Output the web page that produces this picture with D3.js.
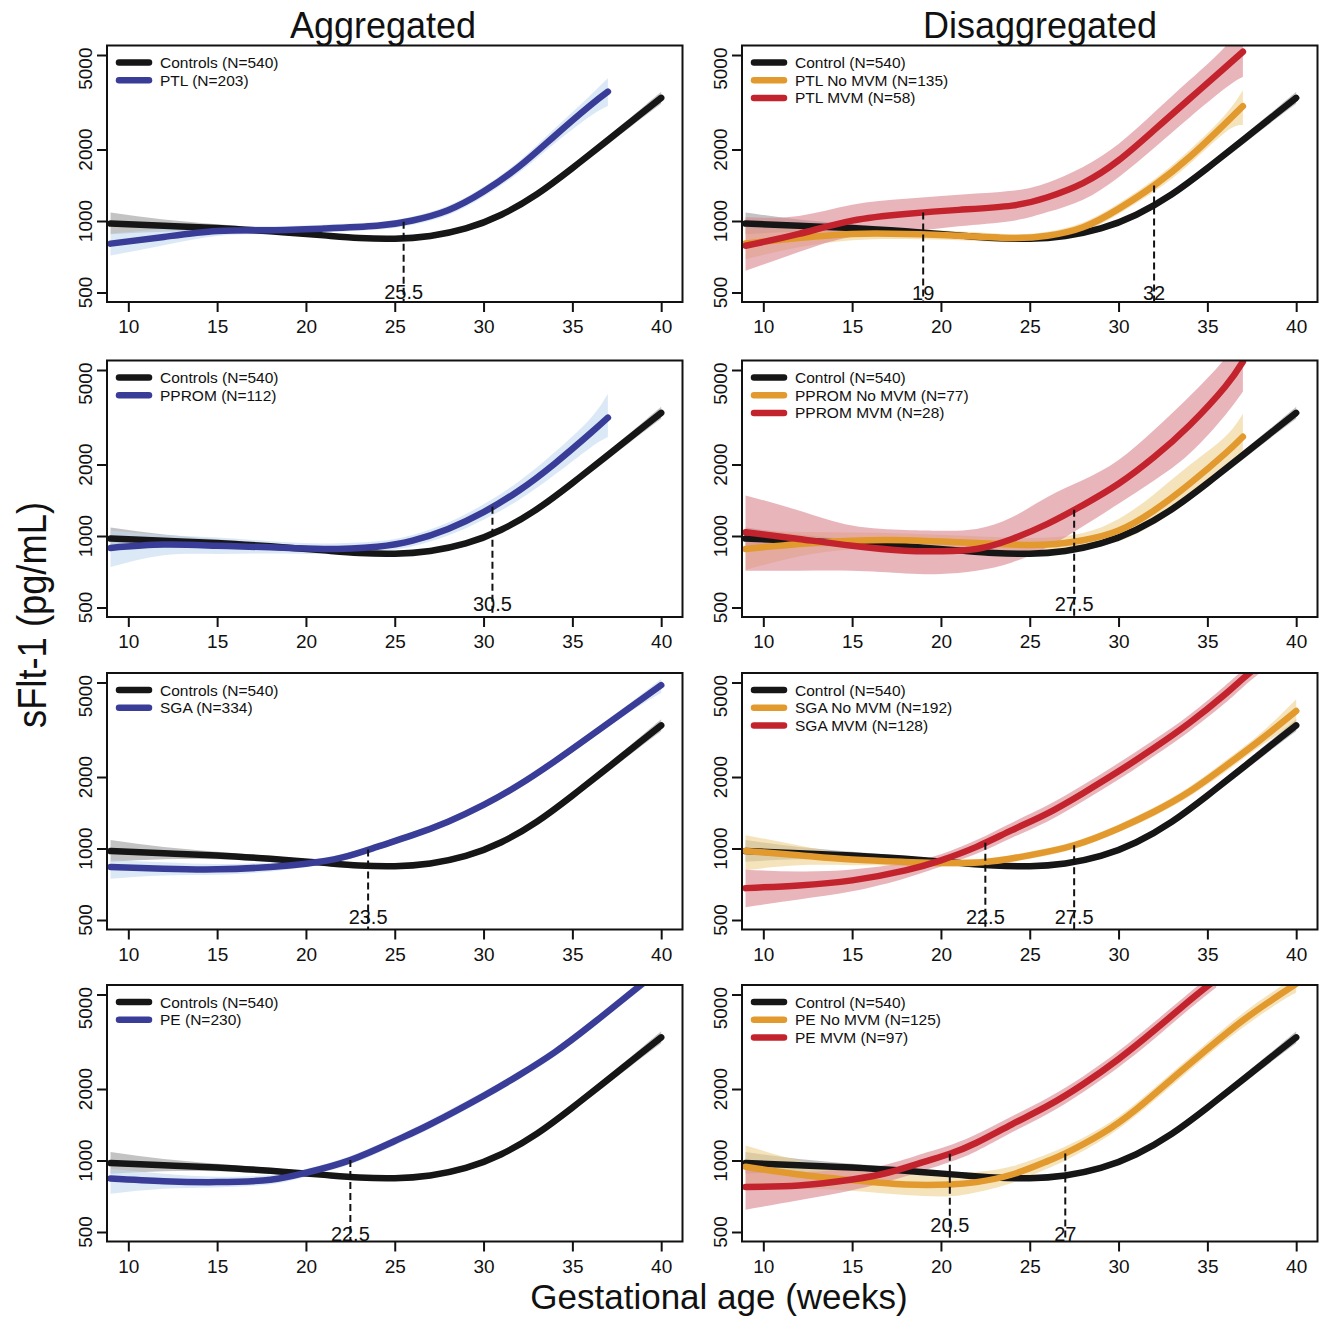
<!DOCTYPE html>
<html>
<head>
<meta charset="utf-8">
<title>sFlt-1 by gestational age</title>
<script src="https://cdn.jsdelivr.net/npm/d3@7"></script>
<style>
  body { margin: 0; background: #ffffff; }
  svg text { font-family: "Liberation Sans", Arial, Helvetica, sans-serif; fill: #111; }
</style>
</head>
<body>
<svg width="1325" height="1318" id="mainsvg"></svg>
<script>
// ---- data (sFlt-1, pg/mL) ----
const xTicks = [10, 15, 20, 25, 30, 35, 40];
const yTicks = [500, 1000, 2000, 5000];
const colTitles = ['Aggregated', 'Disaggregated'];

// controls, shared by every panel
const ctrlWeeks = [9, 12, 15, 18, 21, 23, 25, 27, 29, 31, 33, 35, 37, 39, 40];
const ctrlMid = [975, 955, 935, 905, 870, 848, 842, 865, 930, 1063, 1296, 1670, 2190, 2880, 3300];
const ctrlLo = [880, 900, 900, 880, 850, 828, 822, 845, 905, 1035, 1255, 1610, 2100, 2740, 3120];
const ctrlHi = [1085, 1015, 970, 930, 890, 868, 862, 885, 955, 1092, 1338, 1730, 2280, 3030, 3500];

// PTL
const ptlWeeks = [9, 12, 15, 18, 21, 24, 26, 28, 30, 32, 34, 36, 37];
const ptlMid = [803, 857, 908, 915, 929, 954, 1005, 1110, 1330, 1695, 2281, 3063, 3504];
const ptlLo = [715, 790, 865, 880, 895, 920, 965, 1060, 1265, 1600, 2120, 2760, 3050];
const ptlHi = [885, 925, 950, 950, 965, 990, 1045, 1160, 1395, 1790, 2450, 3380, 4000];

const ptlNoWeeks = [9, 12, 15, 18, 21, 24, 26, 28, 30, 32, 34, 36, 37];
const ptlNoMid = [805, 848, 882, 882, 867, 848, 867, 941, 1125, 1411, 1859, 2571, 3044];
const ptlNoLo = [690, 775, 830, 840, 830, 815, 835, 900, 1070, 1330, 1740, 2360, 2540];
const ptlNoHi = [930, 925, 935, 925, 905, 880, 900, 985, 1185, 1495, 1990, 2800, 3560];

const ptlMvmWeeks = [9, 12, 15, 18, 21, 24, 26, 28, 30, 32, 34, 36, 37];
const ptlMvmMid = [787, 882, 1004, 1071, 1114, 1161, 1259, 1444, 1799, 2412, 3270, 4430, 5160];
const ptlMvmLo = [617, 740, 860, 900, 950, 1000, 1090, 1230, 1530, 2030, 2730, 3620, 4050];
const ptlMvmHi = [1037, 1050, 1170, 1240, 1290, 1340, 1450, 1690, 2110, 2860, 3920, 5420, 6900];

// PPROM
const ppromWeeks = [9, 12, 15, 18, 21, 24, 26, 28, 30, 32, 34, 36, 37];
const ppromMid = [891, 920, 910, 896, 882, 902, 956, 1071, 1260, 1555, 2016, 2700, 3150];
const ppromLo = [740, 830, 840, 845, 840, 860, 905, 1005, 1170, 1420, 1810, 2350, 2610];
const ppromHi = [1055, 1010, 985, 950, 930, 950, 1010, 1140, 1360, 1700, 2250, 3120, 3970];

const ppromNoWeeks = [9, 12, 15, 18, 21, 24, 26, 28, 30, 32, 34, 36, 37];
const ppromNoMid = [882, 926, 956, 960, 941, 920, 920, 960, 1054, 1281, 1659, 2222, 2617];
const ppromNoLo = [720, 820, 880, 895, 880, 860, 860, 895, 950, 1120, 1420, 1900, 2090];
const ppromNoHi = [1060, 1040, 1035, 1025, 1005, 985, 985, 1030, 1180, 1500, 1990, 2620, 3280];

const ppromMvmWeeks = [9, 12, 15, 18, 20, 22, 24, 26, 28, 30, 32, 34, 36, 37];
const ppromMvmMid = [1037, 972, 910, 867, 863, 882, 972, 1125, 1350, 1659, 2150, 2928, 4252, 5420];
const ppromMvmLo = [714, 714, 714, 696, 692, 714, 774, 897, 1100, 1366, 1713, 2224, 3225, 4057];
const ppromMvmHi = [1482, 1280, 1106, 1061, 1053, 1070, 1198, 1459, 1720, 2087, 2792, 3873, 5600, 7300];

// SGA
const sgaWeeks = [9, 12, 15, 18, 20, 22, 24, 26, 28, 30, 32, 34, 36, 38, 40];
const sgaMid = [836, 822, 817, 836, 863, 915, 1016, 1138, 1297, 1525, 1854, 2328, 2972, 3810, 4870];
const sgaLo = [745, 770, 775, 800, 835, 885, 985, 1100, 1255, 1475, 1795, 2250, 2870, 3660, 4525];
const sgaHi = [892, 875, 860, 872, 893, 945, 1048, 1175, 1340, 1575, 1915, 2405, 3075, 3970, 5170];

const sgaNoWeeks = [9, 12, 15, 18, 20, 22.5, 25, 27.5, 30, 32, 34, 36, 38, 40];
const sgaNoMid = [977, 937, 898, 878, 869, 878, 937, 1032, 1215, 1428, 1737, 2216, 2874, 3794];
const sgaNoLo = [810, 850, 850, 845, 840, 848, 905, 995, 1170, 1370, 1660, 2100, 2700, 3390];
const sgaNoHi = [1138, 1030, 945, 912, 898, 908, 970, 1070, 1262, 1490, 1820, 2340, 3060, 4255];

const sgaMvmWeeks = [9, 12, 15, 18, 20, 22, 24, 26, 28, 30, 32, 34, 36, 37, 38];
const sgaMvmMid = [681, 699, 734, 809, 892, 1016, 1195, 1406, 1710, 2113, 2652, 3384, 4462, 5190, 6000];
const sgaMvmLo = [566, 610, 660, 750, 840, 950, 1110, 1300, 1580, 1950, 2450, 3120, 4100, 4780, 5520];
const sgaMvmHi = [814, 800, 815, 870, 945, 1085, 1285, 1520, 1850, 2290, 2870, 3660, 4850, 5640, 6520];

// PE
const peWeeks = [9, 12, 15, 18, 20, 22.5, 25, 27, 30, 32, 34, 36, 38, 39.5];
const peMid = [840, 818, 811, 830, 888, 1004, 1208, 1421, 1872, 2288, 2854, 3696, 4870, 6000];
const peLo = [725, 760, 770, 795, 855, 965, 1160, 1365, 1800, 2200, 2740, 3550, 4670, 5700];
const peHi = [920, 880, 855, 868, 922, 1045, 1255, 1480, 1950, 2380, 2970, 3850, 5080, 6300];

const peNoWeeks = [9, 12, 15, 18, 20.5, 22, 24, 26, 27, 29, 31, 33, 35, 37, 39, 40];
const peNoMid = [941, 873, 826, 792, 792, 811, 873, 994, 1071, 1289, 1644, 2205, 2945, 3890, 4950, 5550];
const peNoLo = [755, 760, 745, 715, 707, 735, 805, 925, 1000, 1210, 1550, 2070, 2770, 3630, 4600, 5100];
const peNoHi = [1158, 1000, 915, 875, 888, 895, 945, 1065, 1145, 1370, 1745, 2340, 3140, 4170, 5330, 6050];

const peMvmWeeks = [9, 12, 15, 17, 19, 20.5, 22, 24, 26, 28, 30, 32, 34, 35.5];
const peMvmMid = [774, 785, 832, 888, 985, 1068, 1188, 1421, 1698, 2096, 2674, 3525, 4716, 5800];
const peMvmLo = [621, 680, 750, 815, 905, 985, 1095, 1315, 1570, 1940, 2470, 3250, 4350, 5350];
const peMvmHi = [948, 900, 920, 965, 1070, 1160, 1290, 1535, 1835, 2260, 2890, 3820, 5100, 6300];

// legends, one per panel (row by row, aggregated then disaggregated)
const legendNames = [
  ['Controls (N=540)', 'PTL (N=203)'],
  ['Control (N=540)', 'PTL No MVM (N=135)', 'PTL MVM (N=58)'],
  ['Controls (N=540)', 'PPROM (N=112)'],
  ['Control (N=540)', 'PPROM No MVM (N=77)', 'PPROM MVM (N=28)'],
  ['Controls (N=540)', 'SGA (N=334)'],
  ['Control (N=540)', 'SGA No MVM (N=192)', 'SGA MVM (N=128)'],
  ['Controls (N=540)', 'PE (N=230)'],
  ['Control (N=540)', 'PE No MVM (N=125)', 'PE MVM (N=97)']
];

// weeks where the groups start to differ, and which curve the dashed line drops from
const cutWeeks = [[25.5], [19, 32], [30.5], [27.5], [23.5], [22.5, 27.5], [22.5], [20.5, 27]];
const cutFrom = [[0], [1, 0], [0], [1], [0], [1, 0], [0], [1, 0]];

// ---- layout ----
const svg = d3.select('#mainsvg');
const colLeft = [107, 742];
const frameW = 575.5;
const rowTop = [45.5, 360.5, 673, 985];
const frameH = 256.5;
const cutLift = [[3], [2, 2], [6], [6], [6], [6, 6], [1], [10, 1]];

const palette = {
  black: { line: '#161616', band: '#7a7a7a', op: 0.45 },
  blue: { line: '#3a3d97', band: '#c3dbf0', op: 0.6 },
  orange: { line: '#e2992d', band: '#efd08e', op: 0.6 },
  red: { line: '#c3232c', band: '#d9848d', op: 0.6 }
};

const control = { w: ctrlWeeks, mid: ctrlMid, lo: ctrlLo, hi: ctrlHi, kind: 'black' };
const panelSeries = [
  [{ w: ptlWeeks, mid: ptlMid, lo: ptlLo, hi: ptlHi, kind: 'blue' }],
  [{ w: ptlNoWeeks, mid: ptlNoMid, lo: ptlNoLo, hi: ptlNoHi, kind: 'orange' },
   { w: ptlMvmWeeks, mid: ptlMvmMid, lo: ptlMvmLo, hi: ptlMvmHi, kind: 'red' }],
  [{ w: ppromWeeks, mid: ppromMid, lo: ppromLo, hi: ppromHi, kind: 'blue' }],
  [{ w: ppromNoWeeks, mid: ppromNoMid, lo: ppromNoLo, hi: ppromNoHi, kind: 'orange' },
   { w: ppromMvmWeeks, mid: ppromMvmMid, lo: ppromMvmLo, hi: ppromMvmHi, kind: 'red' }],
  [{ w: sgaWeeks, mid: sgaMid, lo: sgaLo, hi: sgaHi, kind: 'blue' }],
  [{ w: sgaNoWeeks, mid: sgaNoMid, lo: sgaNoLo, hi: sgaNoHi, kind: 'orange' },
   { w: sgaMvmWeeks, mid: sgaMvmMid, lo: sgaMvmLo, hi: sgaMvmHi, kind: 'red' }],
  [{ w: peWeeks, mid: peMid, lo: peLo, hi: peHi, kind: 'blue' }],
  [{ w: peNoWeeks, mid: peNoMid, lo: peNoLo, hi: peNoHi, kind: 'orange' },
   { w: peMvmWeeks, mid: peMvmMid, lo: peMvmLo, hi: peMvmHi, kind: 'red' }]
];

const drawPanel = function(idx) {
  const col = idx % 2, row = Math.floor(idx / 2);
  const left = colLeft[col], top = rowTop[row];
  const x = d3.scaleLinear().domain([8.8, 41.2]).range([left, left + frameW]);
  const y = d3.scaleLog()
    .domain([500 / Math.pow(10, 0.04), 5000 * Math.pow(10, 0.04)])
    .range([top + frameH, top]);

  const g = svg.append('g').attr('class', 'panel');
  const clipId = 'clip' + idx;
  svg.append('clipPath').attr('id', clipId)
    .append('rect').attr('x', left).attr('y', top).attr('width', frameW).attr('height', frameH);

  const plot = g.append('g').attr('clip-path', `url(#${clipId})`);
  const all = [control].concat(panelSeries[idx]);

  // confidence bands
  all.forEach(s => {
    const pts = s.w.map((w, i) => ({ w: w, lo: s.lo[i], hi: s.hi[i] }));
    const area = d3.area().curve(d3.curveNatural)
      .x(d => x(d.w)).y0(d => y(d.lo)).y1(d => y(d.hi));
    plot.append('path').datum(pts).attr('d', area)
      .attr('fill', palette[s.kind].band).attr('fill-opacity', palette[s.kind].op);
  });

  // fitted curves
  all.forEach(s => {
    const pts = s.w.map((w, i) => ({ w: w, v: s.mid[i] }));
    const line = d3.line().curve(d3.curveNatural)
      .x(d => x(d.w)).y(d => y(d.v));
    plot.append('path').datum(pts).attr('d', line)
      .attr('fill', 'none').attr('stroke', palette[s.kind].line)
      .attr('stroke-width', 6.5).attr('stroke-linecap', 'round');
  });

  // dashed cut-points with labels
  cutWeeks[idx].forEach((cw, k) => {
    const s = panelSeries[idx][cutFrom[idx][k]];
    const py = d3.scaleLinear().domain(s.w).range(s.mid.map(v => y(v)))(cw);
    g.append('text')
      .attr('x', x(cw)).attr('y', top + frameH - cutLift[idx][k])
      .attr('text-anchor', 'middle').attr('font-size', '20px')
      .text(String(cw));
    g.append('line')
      .attr('x1', x(cw)).attr('x2', x(cw))
      .attr('y1', py).attr('y2', top + frameH)
      .attr('stroke', '#111').attr('stroke-width', 2)
      .attr('stroke-dasharray', '7,4');
  });

  // frame
  g.append('rect').attr('x', left).attr('y', top).attr('width', frameW).attr('height', frameH)
    .attr('fill', 'none').attr('stroke', '#111').attr('stroke-width', 2);

  // x axis
  const xAxis = d3.axisBottom(x).tickValues(xTicks).tickSize(10).tickPadding(4).tickFormat(d3.format('d'));
  const xg = g.append('g').attr('transform', `translate(0, ${top + frameH})`).call(xAxis);
  xg.select('.domain').remove();
  xg.selectAll('line').attr('stroke', '#111').attr('stroke-width', 2);
  xg.selectAll('text').attr('font-size', '19px').attr('fill', '#111')
    .attr('dy', null).attr('y', 31);

  // y axis (labels turned parallel to the axis)
  const yAxis = d3.axisLeft(y).tickValues(yTicks).tickSize(10).tickFormat(d3.format('d'));
  const yg = g.append('g').attr('transform', `translate(${left}, 0)`).call(yAxis);
  yg.select('.domain').remove();
  yg.selectAll('line').attr('stroke', '#111').attr('stroke-width', 2);
  yg.selectAll('text').remove();
  yTicks.forEach(t => {
    const atTop = t === yTicks[yTicks.length - 1];
    const ty = atTop ? top + 2 : y(t);
    g.append('text')
      .attr('transform', `translate(${left - 15}, ${ty}) rotate(-90)`)
      .attr('text-anchor', atTop ? 'end' : 'middle')
      .attr('font-size', '19px')
      .text(t);
  });

  // legend
  const kinds = all.map(s => s.kind);
  const lg = g.append('g').selectAll('g').data(legendNames[idx]).enter().append('g')
    .attr('transform', (d, i) => `translate(${left}, ${top + 17 + i * 17.7})`);
  lg.append('line').attr('x1', 12).attr('x2', 42).attr('y1', 0).attr('y2', 0)
    .attr('stroke', (d, i) => palette[kinds[i]].line)
    .attr('stroke-width', 6.5).attr('stroke-linecap', 'round');
  lg.append('text').attr('x', 53).attr('y', 5.5).attr('font-size', '15.5px').text(d => d);
};

d3.range(8).forEach(drawPanel);

// column titles
colTitles.forEach((t, i) => {
  svg.append('text').attr('x', [383, 1040][i]).attr('y', 38)
    .attr('text-anchor', 'middle').attr('font-size', '36px').text(t);
});

// axis titles
svg.append('text').attr('x', 719).attr('y', 1309)
  .attr('text-anchor', 'middle').attr('font-size', '35px').text('Gestational age (weeks)');
svg.append('text').attr('transform', 'translate(46, 615) rotate(-90)')
  .attr('text-anchor', 'middle').attr('font-size', '40px')
  .attr('textLength', 226).attr('lengthAdjust', 'spacingAndGlyphs')
  .text('sFlt-1 (pg/mL)');
</script>
</body>
</html>
